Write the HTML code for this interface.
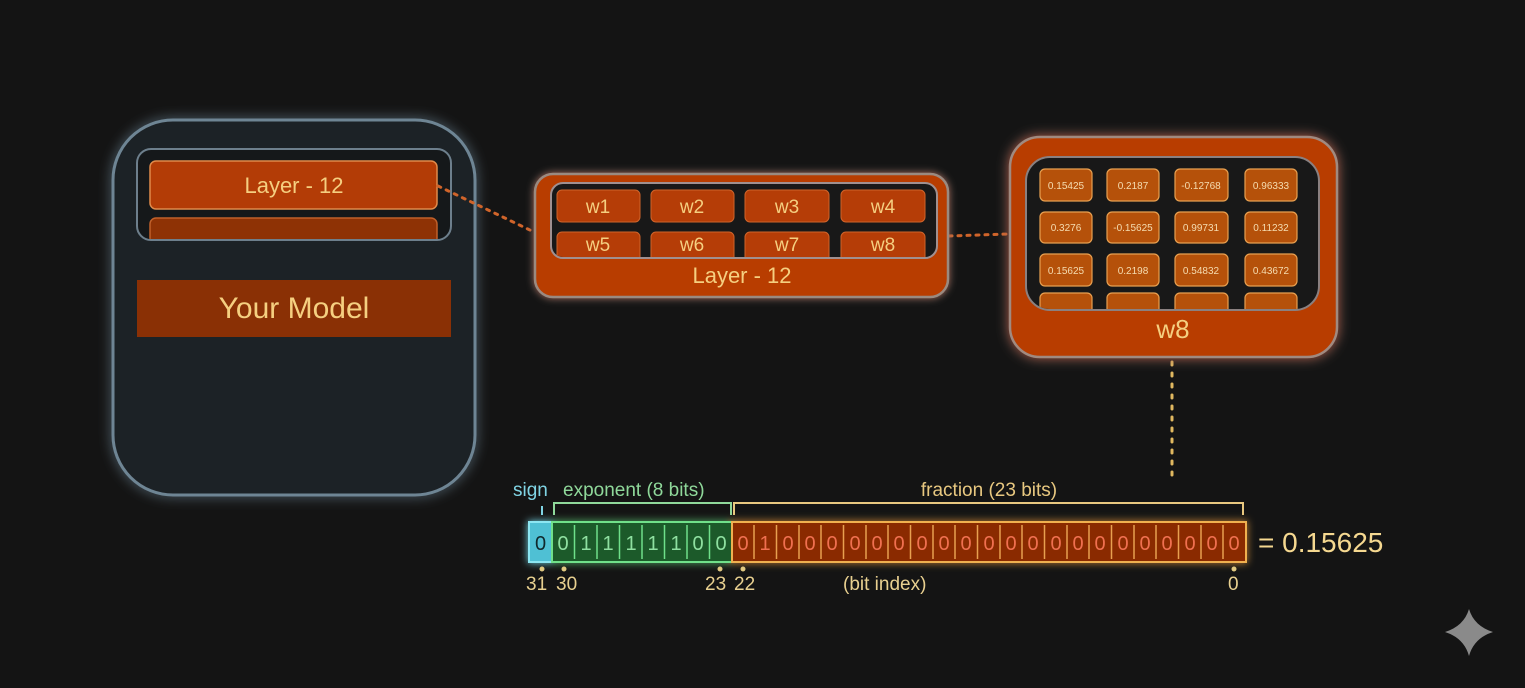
<!DOCTYPE html>
<html><head><meta charset="utf-8"><style>
html,body{margin:0;padding:0;background:#141414;}
svg{display:block}
text{font-family:"Liberation Sans",sans-serif;}
</style></head><body>
<svg width="1525" height="688" viewBox="0 0 1525 688" xmlns="http://www.w3.org/2000/svg">
<defs>
<filter id="g" x="-20%" y="-20%" width="140%" height="140%"><feGaussianBlur stdDeviation="6" result="b"/><feMerge><feMergeNode in="b"/><feMergeNode in="SourceGraphic"/></feMerge></filter>
<filter id="g2" x="-20%" y="-50%" width="140%" height="200%"><feGaussianBlur stdDeviation="4" result="b"/><feMerge><feMergeNode in="b"/><feMergeNode in="SourceGraphic"/></feMerge></filter>
<clipPath id="c1"><rect x="138" y="150" width="312" height="89" rx="13"/></clipPath>
<clipPath id="c2"><rect x="552" y="184" width="384" height="73" rx="11"/></clipPath>
<clipPath id="c3"><rect x="1027" y="158" width="291" height="151" rx="23"/></clipPath>
</defs>
<rect width="1525" height="688" fill="#141414"/>

<!-- Left model box -->
<rect x="113" y="120" width="362" height="375" rx="60" fill="#1e2226" stroke="#6e8594" stroke-width="3" filter="url(#g)"/>
<rect x="137" y="149" width="314" height="91" rx="14" fill="#15181a" stroke="#6d7f8c" stroke-width="2"/>
<g clip-path="url(#c1)">
<rect x="150" y="161" width="287" height="48" rx="6" fill="#b33c06" stroke="#e08a4a" stroke-width="1.5"/>
<rect x="150" y="218" width="287" height="40" rx="6" fill="#8e3205" stroke="#c0602a" stroke-width="1.5"/>
</g>
<text x="294" y="193" font-size="22" fill="#f5cf80" text-anchor="middle">Layer - 12</text>
<rect x="137" y="280" width="314" height="57" fill="#8a3005"/>
<text x="294" y="318" font-size="30" fill="#f5cf80" text-anchor="middle">Your Model</text>

<!-- connectors -->
<line x1="438" y1="186" x2="534" y2="232" stroke="#d0642a" stroke-width="3" stroke-dasharray="3 6" stroke-linecap="round"/>
<line x1="949" y1="236" x2="1008" y2="234" stroke="#d0642a" stroke-width="3" stroke-dasharray="3 6" stroke-linecap="round"/>
<line x1="1172" y1="362" x2="1172" y2="478" stroke="#e0b860" stroke-width="3" stroke-dasharray="3 8" stroke-linecap="round"/>

<!-- Middle layer box -->
<rect x="535" y="174" width="413" height="123" rx="18" fill="#b83d06" stroke="#9a8a80" stroke-width="2.5" filter="url(#g2)"/>
<rect x="551" y="183" width="386" height="75" rx="12" fill="#181818" stroke="#a09090" stroke-width="2"/>
<g clip-path="url(#c2)" fill="#b53d07" stroke="#d0642a" stroke-width="1">
<rect x="557" y="190" width="83" height="32" rx="5"/><rect x="651" y="190" width="83" height="32" rx="5"/>
<rect x="745" y="190" width="84" height="32" rx="5"/><rect x="841" y="190" width="84" height="32" rx="5"/>
<rect x="557" y="232" width="83" height="32" rx="5"/><rect x="651" y="232" width="83" height="32" rx="5"/>
<rect x="745" y="232" width="84" height="32" rx="5"/><rect x="841" y="232" width="84" height="32" rx="5"/>
</g>
<g font-size="19" fill="#f5cf80" text-anchor="middle">
<text x="598" y="213">w1</text><text x="692" y="213">w2</text><text x="787" y="213">w3</text><text x="883" y="213">w4</text>
<text x="598" y="251">w5</text><text x="692" y="251">w6</text><text x="787" y="251">w7</text><text x="883" y="251">w8</text>
</g>
<text x="742" y="283" font-size="22" fill="#f5cf80" text-anchor="middle">Layer - 12</text>

<!-- Right w8 box -->
<rect x="1010" y="137" width="327" height="220" rx="30" fill="#b83d06" stroke="#a08a80" stroke-width="2.5" filter="url(#g)"/>
<rect x="1026" y="157" width="293" height="153" rx="24" fill="#181818" stroke="#8a8080" stroke-width="2"/>
<g clip-path="url(#c3)" fill="#b5510a" stroke="#e8a050" stroke-width="1.2">
<rect x="1040" y="169" width="52" height="32" rx="5"/><rect x="1107" y="169" width="52" height="32" rx="5"/><rect x="1175" y="169" width="53" height="32" rx="5"/><rect x="1245" y="169" width="52" height="32" rx="5"/>
<rect x="1040" y="212" width="52" height="31" rx="5"/><rect x="1107" y="212" width="52" height="31" rx="5"/><rect x="1175" y="212" width="53" height="31" rx="5"/><rect x="1245" y="212" width="52" height="31" rx="5"/>
<rect x="1040" y="254" width="52" height="32" rx="5"/><rect x="1107" y="254" width="52" height="32" rx="5"/><rect x="1175" y="254" width="53" height="32" rx="5"/><rect x="1245" y="254" width="52" height="32" rx="5"/>
<rect x="1040" y="293" width="52" height="32" rx="5"/><rect x="1107" y="293" width="52" height="32" rx="5"/><rect x="1175" y="293" width="53" height="32" rx="5"/><rect x="1245" y="293" width="52" height="32" rx="5"/>
</g>
<g font-size="10" fill="#f5dcb0" text-anchor="middle">
<text x="1066" y="189">0.15425</text><text x="1133" y="189">0.2187</text><text x="1201" y="189">-0.12768</text><text x="1271" y="189">0.96333</text>
<text x="1066" y="231">0.3276</text><text x="1133" y="231">-0.15625</text><text x="1201" y="231">0.99731</text><text x="1271" y="231">0.11232</text>
<text x="1066" y="274">0.15625</text><text x="1133" y="274">0.2198</text><text x="1201" y="274">0.54832</text><text x="1271" y="274">0.43672</text>
</g>
<text x="1173" y="338" font-size="26" fill="#f5cf80" text-anchor="middle">w8</text>

<!-- bit labels -->
<text x="513" y="496" font-size="19" fill="#80d4e4">sign</text>
<text x="563" y="496" font-size="19" fill="#8fd89a">exponent (8 bits)</text>
<text x="989" y="496" font-size="19" fill="#e8c880" text-anchor="middle">fraction (23 bits)</text>
<line x1="542" y1="506" x2="542" y2="515" stroke="#80d4e4" stroke-width="2"/>
<path d="M554 515 V503 H731 V515" fill="none" stroke="#8fd89a" stroke-width="2"/>
<path d="M734 515 V503 H1243 V515" fill="none" stroke="#e8c880" stroke-width="2"/>

<!-- bit row -->
<g filter="url(#g2)">
<rect x="529" y="522" width="23" height="40" fill="#4fc0d4" stroke="#8ce6f2" stroke-width="2"/>
<rect x="552" y="522" width="180" height="40" fill="#1c5a2a" stroke="#6fe08a" stroke-width="2"/>
<rect x="732" y="522" width="514" height="40" fill="#8a2a06" stroke="#f0b050" stroke-width="2"/>
</g>
<g stroke-width="1.5">
<line x1="574.5" y1="525" x2="574.5" y2="559" stroke="#6fe08a"/><line x1="597" y1="525" x2="597" y2="559" stroke="#6fe08a"/><line x1="619.5" y1="525" x2="619.5" y2="559" stroke="#6fe08a"/><line x1="642" y1="525" x2="642" y2="559" stroke="#6fe08a"/><line x1="664.5" y1="525" x2="664.5" y2="559" stroke="#6fe08a"/><line x1="687" y1="525" x2="687" y2="559" stroke="#6fe08a"/><line x1="709.5" y1="525" x2="709.5" y2="559" stroke="#6fe08a"/>
</g>
<g id="fl" stroke="#e8a050" stroke-width="1.5"></g>
<g font-size="20" text-anchor="middle">
<text x="540.5" y="550" fill="#10282c">0</text>
</g>
<g font-size="20" text-anchor="middle" fill="#8fe0a0">
<text x="563" y="550">0</text><text x="586" y="550">1</text><text x="608" y="550">1</text><text x="631" y="550">1</text><text x="653" y="550">1</text><text x="676" y="550">1</text><text x="698" y="550">0</text><text x="721" y="550">0</text>
</g>
<g font-size="20" text-anchor="middle" fill="#f07050">
<text x="743" y="550">0</text><text x="765" y="550">1</text><text x="788" y="550">0</text><text x="810" y="550">0</text><text x="832" y="550">0</text><text x="855" y="550">0</text><text x="877" y="550">0</text><text x="899" y="550">0</text><text x="922" y="550">0</text><text x="944" y="550">0</text><text x="966" y="550">0</text><text x="989" y="550">0</text><text x="1011" y="550">0</text><text x="1033" y="550">0</text><text x="1056" y="550">0</text><text x="1078" y="550">0</text><text x="1100" y="550">0</text><text x="1123" y="550">0</text><text x="1145" y="550">0</text><text x="1167" y="550">0</text><text x="1190" y="550">0</text><text x="1212" y="550">0</text><text x="1234" y="550">0</text>
</g>
<g stroke="#e8a050" stroke-width="1.5">
<line x1="754" y1="525" x2="754" y2="559"/><line x1="776.5" y1="525" x2="776.5" y2="559"/><line x1="799" y1="525" x2="799" y2="559"/><line x1="821" y1="525" x2="821" y2="559"/><line x1="843.5" y1="525" x2="843.5" y2="559"/><line x1="866" y1="525" x2="866" y2="559"/><line x1="888" y1="525" x2="888" y2="559"/><line x1="910.5" y1="525" x2="910.5" y2="559"/><line x1="933" y1="525" x2="933" y2="559"/><line x1="955" y1="525" x2="955" y2="559"/><line x1="977.5" y1="525" x2="977.5" y2="559"/><line x1="1000" y1="525" x2="1000" y2="559"/><line x1="1022" y1="525" x2="1022" y2="559"/><line x1="1044.5" y1="525" x2="1044.5" y2="559"/><line x1="1067" y1="525" x2="1067" y2="559"/><line x1="1089" y1="525" x2="1089" y2="559"/><line x1="1111.5" y1="525" x2="1111.5" y2="559"/><line x1="1134" y1="525" x2="1134" y2="559"/><line x1="1156" y1="525" x2="1156" y2="559"/><line x1="1178.5" y1="525" x2="1178.5" y2="559"/><line x1="1201" y1="525" x2="1201" y2="559"/><line x1="1223" y1="525" x2="1223" y2="559"/>
</g>
<text x="1258" y="552" font-size="28" fill="#f5d890">= 0.15625</text>

<!-- index -->
<g fill="#e0c880">
<circle cx="542" cy="569" r="2.5"/><circle cx="564" cy="569" r="2.5"/><circle cx="720" cy="569" r="2.5"/><circle cx="743" cy="569" r="2.5"/><circle cx="1234" cy="569" r="2.5"/>
</g>
<g font-size="19" fill="#e8d090">
<text x="526" y="590">31</text><text x="556" y="590">30</text><text x="705" y="590">23</text><text x="734" y="590">22</text><text x="843" y="590">(bit index)</text><text x="1228" y="590">0</text>
</g>

<!-- sparkle -->
<path d="M1469 609 Q1474 626 1493 632 Q1474 638 1469 656 Q1464 638 1445 632 Q1464 626 1469 609 Z" fill="#8a8a8a"/>
</svg>
</body></html>
